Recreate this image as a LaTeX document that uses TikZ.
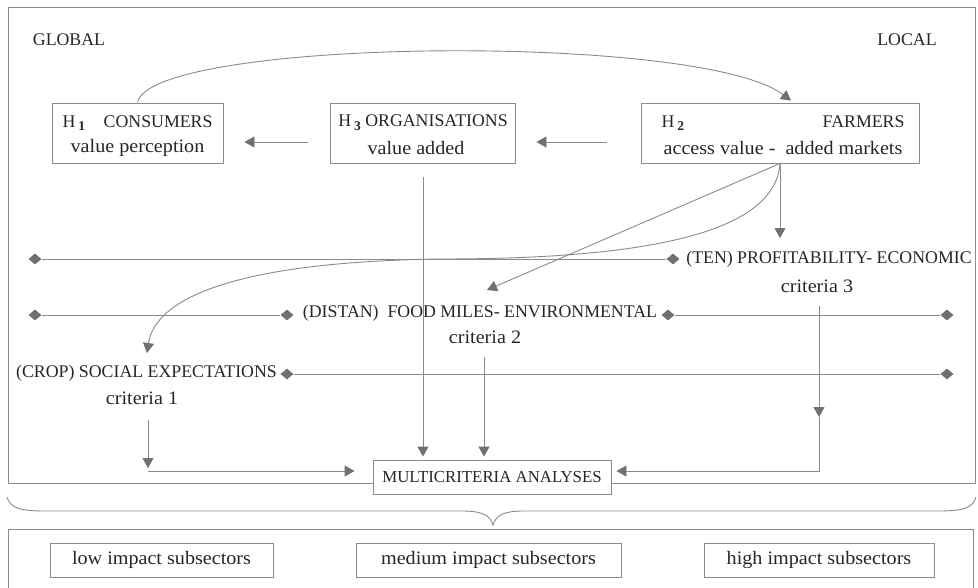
\documentclass[tikz,border=0pt]{standalone}
\usepackage{fontspec}
\setmainfont{Liberation Serif}
\newfontfamily\lcfont[FakeStretch=1.06]{Liberation Serif}
\usetikzlibrary{arrows.meta,shapes.geometric,calc}
\definecolor{lncol}{HTML}{8A8A8C}
\definecolor{tipcol}{HTML}{6F7073}
\definecolor{txcol}{HTML}{262628}
\newcommand\hsub[1]{\,\raisebox{-0.45ex}{\fontsize{13.5}{13.5}\selectfont\bfseries #1}}
\tikzset{
  capt/.style={font=\fontsize{17.8}{19}\selectfont, text=txcol, inner sep=0pt},
  lct/.style={font=\lcfont\fontsize{19}{20}\selectfont, text=txcol, inner sep=0pt},
  box/.style={draw=lncol, line width=0.9pt, fill=white, inner sep=0pt},
  conn/.style={draw=lncol, line width=0.9pt},
  arr/.style={conn, -{Triangle[length=10pt,width=11pt,color=tipcol,fill=tipcol]}},
  dia/.style={diamond, fill=tipcol, draw=none, inner sep=0pt, minimum width=13pt, minimum height=11pt}
}
\begin{document}
\begin{tikzpicture}[x=1pt,y=-1pt]
\useasboundingbox (0,0) rectangle (978,587);
% frames
\draw[conn] (8,7) rectangle (975,483);
\draw[conn] (8,588) -- (8,529) -- (973,529) -- (973,588);
% brace
\draw[conn] (7,497) .. controls (10,508) and (20,511) .. (45,511) -- (462,511)
  .. controls (482,511) and (490,515) .. (493,525)
  .. controls (496,515) and (504,511) .. (524,511) -- (938,511)
  .. controls (963,511) and (973,508) .. (976,497);
% labels
\node[capt] (glob) at (69,40) {GLOBAL};
\node[capt] (loc) at (907,40) {LOCAL};
% top boxes
\node[box, minimum width=171pt, minimum height=60pt] (h1) at (137.5,133) {};
\node[capt] (h1a) at (137.5,123) {\makebox[150pt]{H\hsub{1}\hfill CONSUMERS}};
\node[lct] (h1b) at (137.5,148) {value perception};
\node[box, minimum width=185pt, minimum height=60pt] (h3) at (422.5,133) {};
\node[capt] (h3a) at (423,123) {H\hsub{3} ORGANISATIONS};
\node[lct] (h3b) at (416,148) {value added};
\node[box, minimum width=278pt, minimum height=60pt] (h2) at (780,133) {};
\node[capt] (h2a) at (783,123) {\makebox[243pt]{H\hsub{2}\hfill FARMERS}};
\node[lct] (h2b) at (783,148) {access value -\ \ added markets};
% criteria
\node[capt] (prof) at (829,259) {(TEN) PROFITABILITY- ECONOMIC};
\node[lct] (c3) at (817,286) {criteria 3};
\node[capt] (food) at (480,313) {(DISTAN)\ \ FOOD MILES- ENVIRONMENTAL};
\node[lct] (c2) at (485,337) {criteria 2};
\node[capt] (soc) at (146.5,373) {(CROP) SOCIAL\ EXPECTATIONS};
\node[lct] (c1) at (142,398) {criteria 1};
% diamond lines
\node[dia] (dA1) at (35,259) {};
\node[dia] (dA2) at (673,259) {};
\node[dia] (dB1) at (35,315) {};
\node[dia] (dB2) at (287,315) {};
\node[dia] (dB3) at (668,315) {};
\node[dia] (dB4) at (947,315) {};
\node[dia] (dC1) at (287,374) {};
\node[dia] (dC2) at (947,374) {};
\draw[conn] (dA1) -- (dA2);
\draw[conn] (dB1) -- (dB2);
\draw[conn] (dB3) -- (dB4);
\draw[conn] (dC1) -- (dC2);
% multicriteria
\node[box, capt, font=\fontsize{16.8}{18}\selectfont, minimum width=238pt, minimum height=34pt] (mc) at (492,477) {MULTICRITERIA\ ANALYSES};
% bottom boxes
\node[box, lct, minimum width=223pt, minimum height=34pt] (low) at (161.5,560) {low impact subsectors};
\node[box, lct, minimum width=265pt, minimum height=34pt] (med) at (488.5,560) {medium impact subsectors};
\node[box, lct, minimum width=230pt, minimum height=34pt] (high) at (819,560) {high impact subsectors};
% connectors
\draw[arr] (h1.north) .. controls (150,38) and (700,32) .. ($(h2.north)+(11,-2)$);
\draw[arr] ($(h3.west)+(-22,9)$) -- ($(h1.east)+(21,9)$);
\draw[arr] ($(h2.west)+(-34,9)$) -- ($(h3.east)+(21,9)$);
\draw[arr] (423,177) -- ($(mc.north)+(-69,-3)$);
\draw[arr] (h2.south) -- (780,238);
\draw[arr] (h2.south) -- (487,290);
\draw[arr] (h2.south) .. controls (775,235) and (640,259) .. (440,259)
  .. controls (230,262) and (155,300) .. (147,353);
\coordinate (c1s) at (148,420);
\coordinate (c1e) at (148,468);
\draw[arr] (c1s) -- (c1e);
\draw[arr] (148,471) -- ($(mc.west)+(-18,-6)$);
\draw[arr] (484,357) -- ($(mc.north)+(-8,-3)$);
\coordinate (c3s) at (819,306);
\coordinate (c3e) at (819,417);
\draw[arr] (c3s) -- (c3e);
\draw[arr] (c3e) -- (819,471) -- ($(mc.east)+(5,-6)$);
\end{tikzpicture}
\end{document}
